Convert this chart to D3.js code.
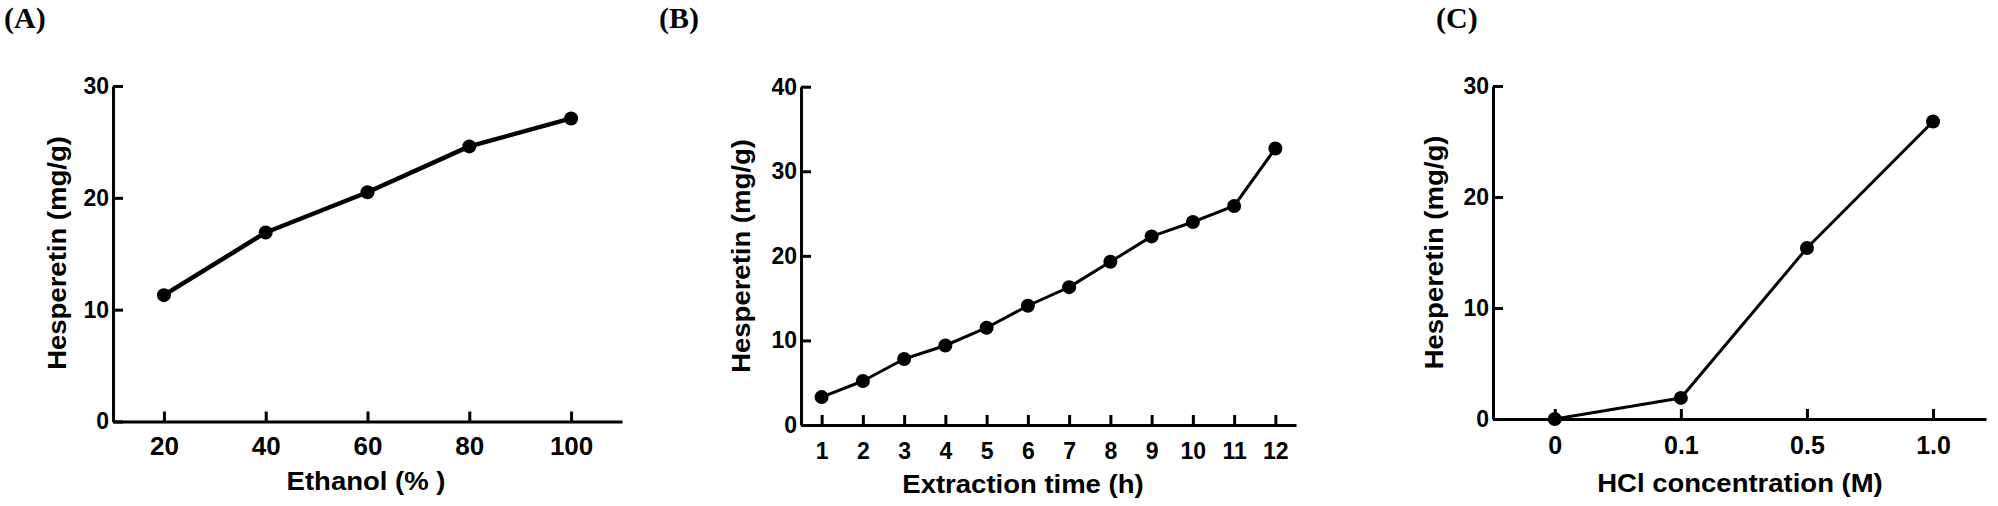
<!DOCTYPE html>
<html>
<head>
<meta charset="utf-8">
<script src="https://cdn.jsdelivr.net/npm/d3@7"></script>
<style>
  body { margin: 0; background: #fff; }
  svg { display: block; }
  .axis path, .axis line { stroke: #000; stroke-width: 3px; }
  .axis text { font-family: "Liberation Sans", Arial, sans-serif; font-weight: bold; fill: #000; }
  .title { font-family: "Liberation Sans", Arial, sans-serif; font-weight: bold; font-size: 25px; fill: #000; }
  .panel-tag { font-family: "Liberation Serif", "Times New Roman", serif; font-weight: bold; font-size: 30px; fill: #000; }
</style>
</head>
<body>
<svg id="fig" width="1998" height="506"></svg>
<script>
// ---- data ----
var ethanolPct = [20, 40, 60, 80, 100];
var hesperetinA = [11.3, 16.9, 20.5, 24.6, 27.1];

var timeH = [1, 2, 3, 4, 5, 6, 7, 8, 9, 10, 11, 12];
var hesperetinB = [3.3, 5.2, 7.8, 9.4, 11.5, 14.1, 16.3, 19.3, 22.3, 24.0, 25.9, 32.7];

var hclLabels = ["0", "0.1", "0.5", "1.0"];
var hesperetinC = [0, 1.9, 15.4, 26.8];

var yTicksA = [0, 10, 20, 30];
var yTicksB = [0, 10, 20, 30, 40];
var yTicksC = [0, 10, 20, 30];

var svg = d3.select("#fig");

// layout of each panel (pixels)
var panels = [
  {tag: "(A)", tagX: 4, left: 113, right: 622, bottom: 421.5, top: 86,
   xDomain: [10, 110], yMax: 30, xs: ethanolPct, ys: hesperetinA, xTicks: ethanolPct, yTicks: yTicksA,
   xFmt: d3.format("d"), xFont: 26, yFont: 23, xPad: 15, lineW: 4.5,
   xTitle: "Ethanol (% )", xTitleX: 366, xTitleY: 490, yTitleX: 66, yTitleY: 253},
  {tag: "(B)", tagX: 659, left: 801, right: 1296, bottom: 425, top: 86.7,
   xDomain: [0.5, 12.5], yMax: 40, xs: timeH, ys: hesperetinB, xTicks: timeH, yTicks: yTicksB,
   xFmt: d3.format("d"), xFont: 23, yFont: 23, xPad: 18, lineW: 3,
   xTitle: "Extraction time (h)", xTitleX: 1023, xTitleY: 493, yTitleX: 750, yTitleY: 256},
  {tag: "(C)", tagX: 1436, left: 1493, right: 1986, bottom: 419, top: 86,
   xDomain: [-0.49, 3.42], yMax: 30, xs: d3.range(hclLabels.length), ys: hesperetinC,
   xTicks: d3.range(hclLabels.length), yTicks: yTicksC,
   xFmt: function(i) { return hclLabels[i]; }, xFont: 25, yFont: 23, xPad: 17, lineW: 3,
   xTitle: "HCl concentration (M)", xTitleX: 1740, xTitleY: 492, yTitleX: 1443, yTitleY: 252.5}
];

function title(g, txt, x, y, rot) {
  g.append("text")
    .attr("class", "title")
    .attr("text-anchor", "middle")
    .attr("transform", "translate(" + x + "," + y + ") rotate(" + rot + ") scale(1.1,1)")
    .text(txt);
}

panels.forEach(function(p) {
  var g = svg.append("g");

  var x = d3.scaleLinear().domain(p.xDomain).range([p.left, p.right]);
  var y = d3.scaleLinear().domain([0, p.yMax]).range([p.bottom, p.top]);

  // x axis, ticks pointing up
  var gx = g.append("g")
    .attr("class", "axis")
    .attr("transform", "translate(0," + p.bottom + ")")
    .call(d3.axisBottom(x).tickValues(p.xTicks).tickFormat(p.xFmt)
      .tickSizeInner(-10).tickSizeOuter(0).tickPadding(p.xPad));
  gx.selectAll("text").style("font-size", p.xFont + "px");

  // y axis, ticks pointing right
  var gy = g.append("g")
    .attr("class", "axis")
    .attr("transform", "translate(" + p.left + ",0)")
    .call(d3.axisLeft(y).tickValues(p.yTicks).tickFormat(d3.format("d"))
      .tickSizeInner(-10).tickSizeOuter(0).tickPadding(4));
  gy.selectAll("text").style("font-size", p.yFont + "px");

  var pts = p.xs.map(function(v, i) { return [v, p.ys[i]]; });

  var line = d3.line()
    .x(function(d) { return x(d[0]); })
    .y(function(d) { return y(d[1]); });

  g.append("path")
    .datum(pts)
    .attr("fill", "none")
    .attr("stroke", "#000")
    .attr("stroke-width", p.lineW)
    .attr("stroke-linejoin", "round")
    .attr("d", line);

  g.selectAll("circle")
    .data(pts)
    .enter().append("circle")
    .attr("cx", function(d) { return x(d[0]); })
    .attr("cy", function(d) { return y(d[1]); })
    .attr("r", 7)
    .attr("fill", "#000");

  title(g, p.xTitle, p.xTitleX, p.xTitleY, 0);
  title(g, "Hesperetin (mg/g)", p.yTitleX, p.yTitleY, -90);

  g.append("text")
    .attr("class", "panel-tag")
    .attr("x", p.tagX)
    .attr("y", 28)
    .text(p.tag);
});
</script>
</body>
</html>
